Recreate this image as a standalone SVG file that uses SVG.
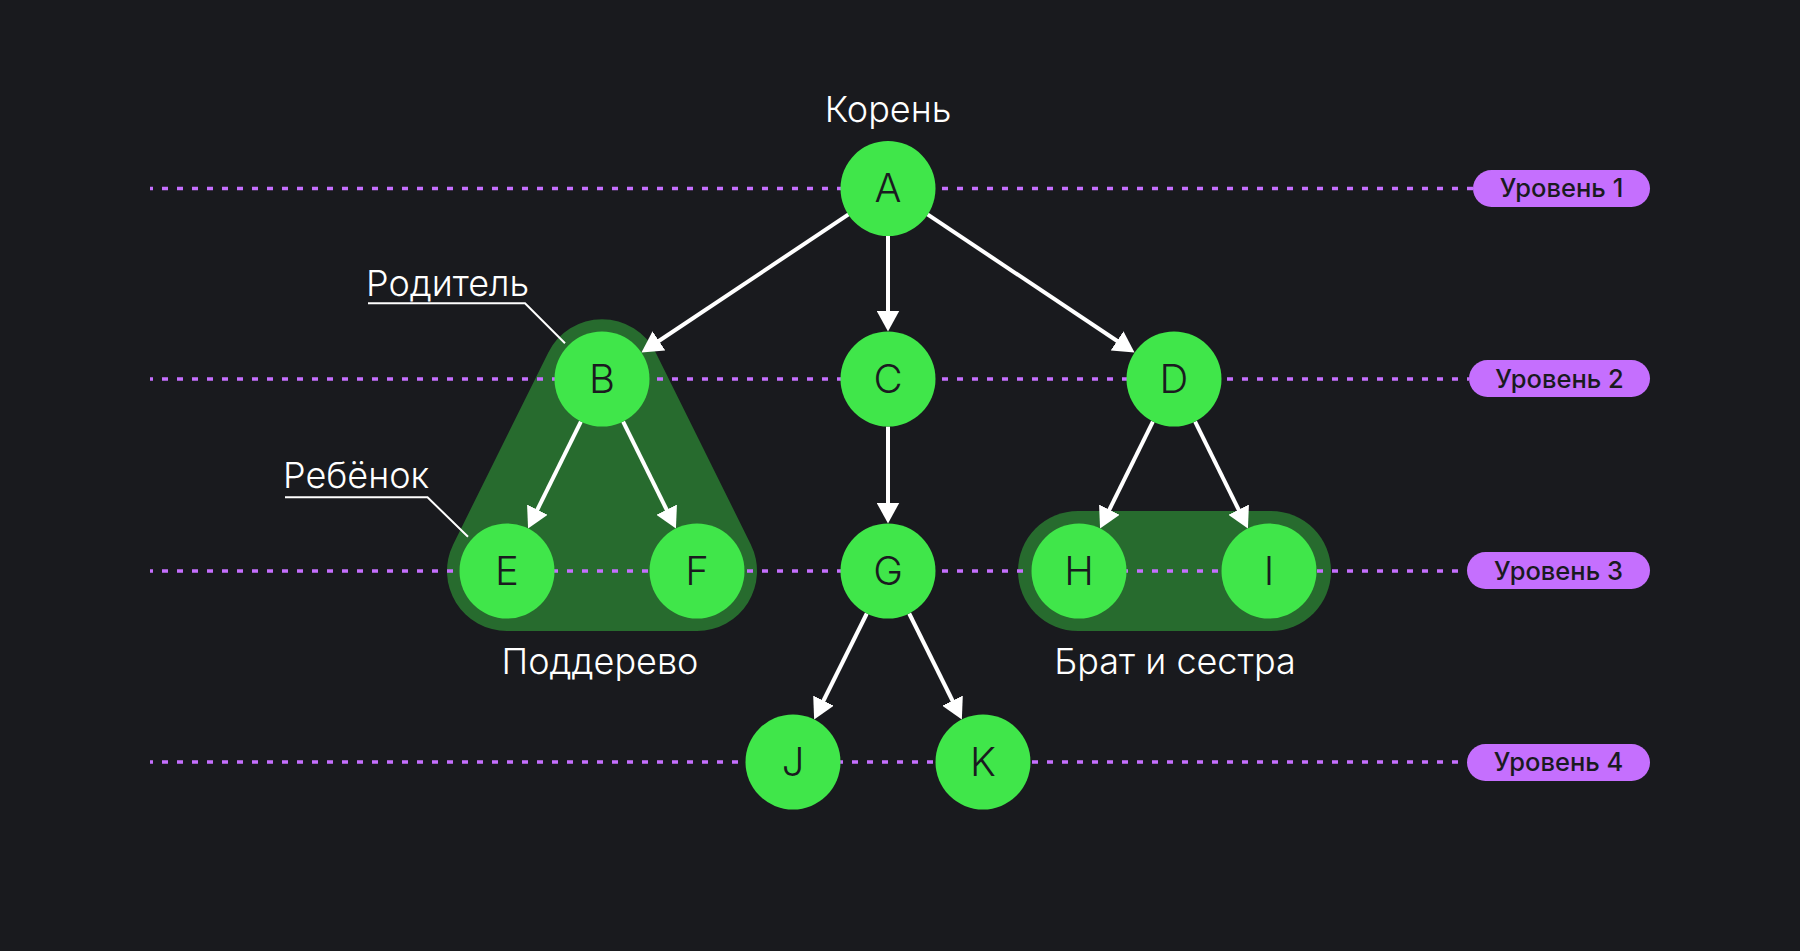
<svg xmlns="http://www.w3.org/2000/svg" width="1800" height="951" viewBox="0 0 1800 951">
<defs>
<marker id="ah" markerUnits="userSpaceOnUse" markerWidth="21" markerHeight="23" refX="11" refY="11.5" orient="auto">
<path d="M0,0 L21,11.5 L0,23 Z" fill="#ffffff"/>
</marker>
<style>
.bg{fill:#191a1e}
.grp{fill:#276b2e}
.lvl{stroke:#c56ffe;stroke-width:3.5;stroke-dasharray:6 9;stroke-dashoffset:3;fill:none}
.pill{fill:#c56ffe}
.pt{font-family:Inter,"Liberation Sans",sans-serif;font-size:25.5px;font-weight:500;fill:#1a1b1f;text-anchor:middle}
.node{fill:#40e64a}
.nt{font-family:Inter,"Liberation Sans",sans-serif;font-size:40px;font-weight:300;fill:#1a1b1f;text-anchor:middle}
.lbl{font-family:Inter,"Liberation Sans",sans-serif;font-size:36px;font-weight:300;fill:#ffffff}
.edge{stroke:#ffffff;stroke-width:4;fill:none;marker-end:url(#ah)}
.ptr{stroke:#ffffff;stroke-width:2;fill:none}
</style>
</defs>
<rect class="bg" x="0" y="0" width="1800" height="951"/>

<g id="subtree-bg">
<path class="grp" d="M548.2,352.7 A60,60 0 0 1 655.8,352.7 L750.8,544.4 A60,60 0 0 1 697,631 L507,631 A60,60 0 0 1 453.2,544.4 Z"/>
</g>
<g id="siblings-bg">
<rect class="grp" x="1018" y="511" width="313" height="120" rx="60" ry="60"/>
</g>

<g id="levels">
<line class="lvl" x1="150" y1="188.5" x2="1473" y2="188.5"/>
<line class="lvl" x1="150" y1="379" x2="1469" y2="379"/>
<line class="lvl" x1="150" y1="571" x2="1467" y2="571"/>
<line class="lvl" x1="150" y1="762" x2="1467" y2="762"/>
</g>
<g id="level1"><rect class="pill" x="1473" y="170" width="177" height="37" rx="18.5"/><text class="pt" x="1561.5" y="197">Уровень 1</text></g>
<g id="level2"><rect class="pill" x="1469" y="360" width="181" height="37" rx="18.5"/><text class="pt" x="1559.5" y="388">Уровень 2</text></g>
<g id="level3"><rect class="pill" x="1467" y="552" width="183" height="37" rx="18.5"/><text class="pt" x="1558.5" y="580">Уровень 3</text></g>
<g id="level4"><rect class="pill" x="1467" y="744" width="183" height="37" rx="18.5"/><text class="pt" x="1558.5" y="771">Уровень 4</text></g>

<g id="connectors">
<line class="edge" x1="848.5" y1="214.4" x2="649.8" y2="347"/>
<line class="edge" x1="888" y1="235.5" x2="888" y2="321.5"/>
<line class="edge" x1="927.5" y1="214.4" x2="1126.2" y2="347"/>
<line class="edge" x1="888" y1="426.5" x2="888" y2="513.5"/>
<line class="edge" x1="580.9" y1="421.6" x2="532.5" y2="519.5"/>
<line class="edge" x1="623.1" y1="421.6" x2="671.5" y2="519.5"/>
<line class="edge" x1="1152.9" y1="421.6" x2="1104.5" y2="519.5"/>
<line class="edge" x1="1195.1" y1="421.6" x2="1243.5" y2="519.5"/>
<line class="edge" x1="866.8" y1="613.5" x2="818.6" y2="710.5"/>
<line class="edge" x1="909.2" y1="613.5" x2="957.4" y2="710.5"/>
</g>

<g id="A"><circle class="node" cx="888" cy="188.5" r="47.5"/><text class="nt" x="888" y="202">A</text></g>
<g id="B"><circle class="node" cx="602" cy="379" r="47.5"/><text class="nt" x="602" y="392.5">B</text></g>
<g id="C"><circle class="node" cx="888" cy="379" r="47.5"/><text class="nt" x="888" y="392.5">C</text></g>
<g id="D"><circle class="node" cx="1174" cy="379" r="47.5"/><text class="nt" x="1174" y="392.5">D</text></g>
<g id="E"><circle class="node" cx="507" cy="571" r="47.5"/><text class="nt" x="507" y="584.5">E</text></g>
<g id="F"><circle class="node" cx="697" cy="571" r="47.5"/><text class="nt" x="697" y="584.5">F</text></g>
<g id="G"><circle class="node" cx="888" cy="571" r="47.5"/><text class="nt" x="888" y="584.5">G</text></g>
<g id="H"><circle class="node" cx="1079" cy="571" r="47.5"/><text class="nt" x="1079" y="584.5">H</text></g>
<g id="I"><circle class="node" cx="1269" cy="571" r="47.5"/><text class="nt" x="1269" y="584.5">I</text></g>
<g id="J"><circle class="node" cx="793" cy="762" r="47.5"/><text class="nt" x="793" y="775.5">J</text></g>
<g id="K"><circle class="node" cx="983" cy="762" r="47.5"/><text class="nt" x="983" y="775.5">K</text></g>

<g id="label-root"><text class="lbl" x="888" y="121.7" text-anchor="middle">Корень</text></g>
<g id="label-parent"><text class="lbl" x="366" y="295.7">Родитель</text><polyline class="ptr" points="368,303.3 525,303.3 565,343.3"/></g>
<g id="label-child"><text class="lbl" x="283" y="488.3">Ребёнок</text><polyline class="ptr" points="285,497.3 427.5,497.3 468,536.7"/></g>
<g id="label-subtree"><text class="lbl" x="600" y="674" text-anchor="middle">Поддерево</text></g>
<g id="label-siblings"><text class="lbl" x="1175" y="674" text-anchor="middle">Брат и сестра</text></g>
</svg>
